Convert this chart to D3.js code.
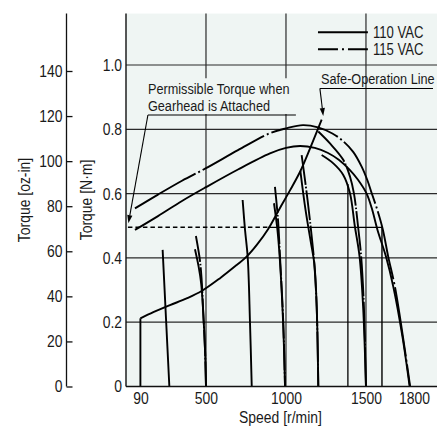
<!DOCTYPE html>
<html><head><meta charset="utf-8">
<script src="https://cdn.jsdelivr.net/npm/d3@7"></script>
<style>
html,body{margin:0;padding:0;background:#fff;}
svg{display:block;}
text{font-family:"Liberation Sans",Arial,Helvetica,sans-serif;fill:#1a1a1a;}
</style></head><body>
<svg id="chart" width="440" height="429"></svg>
<script>
// ---- data (speed r/min, torque N·m) ----
const speedTicks = [90, 500, 1000, 1500, 1800];
const speedGrid = [500, 1000, 1500];
const torqueTicks = [0, 0.2, 0.4, 0.6, 0.8, 1.0];
const ozTicks = [0, 20, 40, 60, 80, 100, 120, 140];
const legendLabels = ["110 VAC", "115 VAC"];

const hump110 = [[56,0.487],[200,0.53],[350,0.577],[500,0.62],[700,0.675],[900,0.725],[1000,0.742],[1088,0.748],[1180,0.742],[1260,0.727],[1330,0.705],[1400,0.673],[1450,0.643],[1504,0.6],[1536,0.555],[1572,0.487],[1625,0.404],[1671,0.31],[1728,0.155],[1773,0]];
const hump115 = [[56,0.554],[200,0.597],[350,0.64],[500,0.679],[700,0.735],[900,0.788],[1000,0.803],[1106,0.813],[1200,0.806],[1290,0.787],[1348,0.767],[1420,0.73],[1473,0.684],[1510,0.64],[1536,0.601],[1573,0.546],[1606,0.487],[1639,0.404],[1681,0.31],[1731,0.155],[1776,0]];
const safeLine = [[90,0.212],[171,0.231],[275,0.253],[379,0.274],[473,0.297],[588,0.337],[692,0.378],[754,0.404],[820,0.442],[889,0.49],[960,0.553],[1025,0.61],[1088,0.668],[1150,0.74],[1223,0.83]];

const set90 = [[90,0.212],[90,0]];
const set250 = [[229,0.425],[250,0.212],[271,0]];
const set500_110 = [[431,0.427],[454,0.373],[470,0.32],[483,0.228],[494,0.114],[500,0]];
const set500_115 = [[437,0.468],[462,0.393],[473,0.331],[483,0.228],[494,0.114],[500,0]];
const set800 = [[729,0.58],[744,0.487],[761,0.4],[775,0.2],[786,0]];
const set1000_110 = [[925,0.57],[946,0.49],[961,0.4],[982,0.2],[994,0]];
const set1000_115 = [[931,0.621],[950,0.52],[963,0.4],[983,0.2],[994,0]];
const set1200_110 = [[1090,0.67],[1122,0.55],[1155,0.45],[1177,0.383],[1192,0.248],[1202,0]];
const set1200_115 = [[1098,0.72],[1135,0.58],[1160,0.47],[1177,0.383],[1192,0.248],[1202,0]];
const set1500_110 = [[1223,0.72],[1296,0.694],[1358,0.658],[1400,0.601],[1430,0.5],[1460,0.404],[1482,0.25],[1500,0]];
const set1500_115 = [[1202,0.793],[1275,0.756],[1358,0.705],[1400,0.653],[1425,0.6],[1450,0.5],[1470,0.404],[1487,0.25],[1500,0]];

const permissibleDashed = [[12,0.495],[889,0.495]];
const permissibleSolid = [[889,0.495],[1600,0.495],[1600,0]];
const line1400 = [[1387,0.63],[1387,0]];

// ---- layout ----
const svg = d3.select("#chart");
const plotLeft = 126, plotRight = 437, plotBottom = 386.5, pxPerNm = 321.5;
const x = d3.scaleLinear().domain([0, 1944]).range([plotLeft, plotRight]);
const y = d3.scaleLinear().domain([0, 1.16]).range([plotBottom, plotBottom - 1.16 * pxPerNm]);
const yOz = d3.scaleLinear().domain([0, 140]).range([plotBottom, 71]);
const plotTop = y.range()[1];
const bg = "#eff5f3";
const gridColor = "#2a2a2a";
const narrow = 0.82;

svg.append("rect").attr("x", plotLeft).attr("y", plotTop).attr("width", plotRight - plotLeft).attr("height", plotBottom - plotTop).attr("fill", bg);

// grid
svg.append("g").selectAll("line").data(torqueTicks.filter(d => d > 0)).join("line")
  .attr("x1", plotLeft).attr("x2", plotRight).attr("y1", d => y(d)).attr("y2", d => y(d))
  .attr("stroke", gridColor).attr("stroke-width", 1.2);
svg.append("g").selectAll("line").data(speedGrid).join("line")
  .attr("x1", d => x(d)).attr("x2", d => x(d)).attr("y1", plotTop).attr("y2", plotBottom)
  .attr("stroke", gridColor).attr("stroke-width", 1.2);

// knockout behind permissible label
const permLabel = {x: 137, y1: 0.909, y2: 0.857, under: 0.8445, underEnd: 1062, tip: [15, 0.508]};
svg.append("rect")
  .attr("x", x(permLabel.x) - 2).attr("y", y(permLabel.y1) - 16)
  .attr("width", x(permLabel.underEnd) - x(permLabel.x) + 3)
  .attr("height", y(permLabel.under) - y(permLabel.y1) + 15)
  .attr("fill", bg);

const line = d3.line().x(d => x(d[0])).y(d => y(d[1])).curve(d3.curveCatmullRom.alpha(0.5));
const straight = d3.line().x(d => x(d[0])).y(d => y(d[1]));

const curves = [
  {d: set90, dash: null, s: straight},
  {d: set250, dash: null, s: line},
  {d: set500_110, dash: null, s: line},
  {d: set500_115, dash: "26,2,1.5,2", s: line},
  {d: set800, dash: null, s: line},
  {d: set1000_110, dash: null, s: line},
  {d: set1000_115, dash: "26,2,1.5,2", s: line},
  {d: set1200_110, dash: null, s: line},
  {d: set1200_115, dash: "30,2,1.5,2", s: line},
  {d: set1500_110, dash: null, s: line},
  {d: set1500_115, dash: "40,2,1.5,2", s: line},
  {d: line1400, dash: null, s: straight, w: 1.3},
  {d: permissibleSolid, dash: null, s: straight, w: 1.4},
  {d: permissibleDashed, dash: "4.5,3", s: straight, w: 1.5},
  {d: safeLine, dash: null, s: line},
  {d: hump110, dash: null, s: line},
  {d: hump115, dash: "70,3,2,3", s: line}
];
svg.append("g").selectAll("path").data(curves).join("path")
  .attr("d", c => c.s(c.d)).attr("fill", "none").attr("stroke", "#000")
  .attr("stroke-width", c => c.w || 1.9).attr("stroke-dasharray", c => c.dash)
  .attr("stroke-linejoin", "round");

// plot frame (left edge and bottom)
svg.append("line").attr("x1", plotLeft).attr("x2", plotLeft).attr("y1", plotTop).attr("y2", plotBottom).attr("stroke", "#111").attr("stroke-width", 1.4);
svg.append("line").attr("x1", plotLeft).attr("x2", plotRight).attr("y1", plotBottom).attr("y2", plotBottom).attr("stroke", "#111").attr("stroke-width", 1.4);

// axes
const fs = 17;
const gY = svg.append("g").attr("transform", `translate(${plotLeft},0)`)
  .call(d3.axisLeft(y).tickValues(torqueTicks).tickSize(0).tickPadding(4).tickFormat(d => d === 0 ? "0" : d.toFixed(1)));
gY.select(".domain").remove();
const gX = svg.append("g").attr("transform", `translate(0,${plotBottom})`)
  .call(d3.axisBottom(x).tickValues(speedTicks).tickSize(0).tickPadding(5.5).tickFormat(d3.format("d")));
gX.select(".domain").remove();
const ozX = 66.5;
const gOz = svg.append("g").attr("transform", `translate(${ozX},0)`)
  .call(d3.axisLeft(yOz).tickValues(ozTicks).tickSizeInner(-6).tickSizeOuter(0).tickPadding(4));
gOz.select(".domain").remove();
gOz.selectAll(".tick line").attr("stroke", "#111").attr("stroke-width", 1.3);
svg.append("line").attr("x1", ozX).attr("x2", ozX).attr("y1", plotTop).attr("y2", plotBottom).attr("stroke", "#111").attr("stroke-width", 1.3);
[gY, gX, gOz].forEach(g => g.attr("font-size", fs).attr("font-family", null).selectAll("text").attr("fill", "#1a1a1a"));

// axis titles
svg.append("text").attr("transform", `translate(30,200) rotate(-90)`).attr("text-anchor", "middle").attr("font-size", fs).text("Torque [oz-in]");
svg.append("text").attr("transform", `translate(91.5,200) rotate(-90)`).attr("text-anchor", "middle").attr("font-size", fs).text("Torque [N·m]");
svg.append("text").attr("x", 280.5).attr("y", 423).attr("text-anchor", "middle").attr("font-size", fs).text("Speed [r/min]");

// annotations
const afs = 15.5;
function arrow(from, to) {
  const p0 = [x(from[0]), y(from[1])], p1 = [x(to[0]), y(to[1])];
  const ang = Math.atan2(p1[1] - p0[1], p1[0] - p0[0]);
  const L = 8, Wd = 2.6;
  const bx = p1[0] - L * Math.cos(ang), by = p1[1] - L * Math.sin(ang);
  svg.append("line").attr("x1", p0[0]).attr("y1", p0[1]).attr("x2", bx).attr("y2", by).attr("stroke", "#000").attr("stroke-width", 1.1);
  const px = -Math.sin(ang) * Wd, py = Math.cos(ang) * Wd;
  svg.append("path").attr("d", `M${p1[0]},${p1[1]}L${bx + px},${by + py}L${bx - px},${by - py}Z`).attr("fill", "#000");
}
svg.append("text").attr("x", x(permLabel.x)).attr("y", y(permLabel.y1)).attr("font-size", afs).text("Permissible Torque when");
svg.append("text").attr("x", x(permLabel.x)).attr("y", y(permLabel.y2)).attr("font-size", afs).text("Gearhead is Attached");
svg.append("line").attr("x1", x(permLabel.x)).attr("x2", x(permLabel.underEnd)).attr("y1", y(permLabel.under)).attr("y2", y(permLabel.under)).attr("stroke", "#000").attr("stroke-width", 1.1);
arrow([permLabel.x, permLabel.under], permLabel.tip);

const safeLabel = {x: 1219, y: 0.941, under: 0.927, underStart: 1212, underEnd: 1919, tip: [1233, 0.841]};
svg.append("text").attr("x", x(safeLabel.x)).attr("y", y(safeLabel.y)).attr("font-size", afs).text("Safe-Operation Line");
svg.append("line").attr("x1", x(safeLabel.underStart)).attr("x2", x(safeLabel.underEnd)).attr("y1", y(safeLabel.under)).attr("y2", y(safeLabel.under)).attr("stroke", "#000").attr("stroke-width", 1.1);
arrow([safeLabel.underStart, safeLabel.under], safeLabel.tip);

// legend
const legend = {x1: 1200, x2: 1512, tx: 1544, rows: [1.1017, 1.0488], base: [1.0849, 1.031], dash: [null, "20,4,2,4"]};
legendLabels.forEach((lab, i) => {
  svg.append("line").attr("x1", x(legend.x1)).attr("x2", x(legend.x2)).attr("y1", y(legend.rows[i])).attr("y2", y(legend.rows[i]))
    .attr("stroke", "#000").attr("stroke-width", 1.9).attr("stroke-dasharray", legend.dash[i]);
  svg.append("text").attr("x", x(legend.tx)).attr("y", y(legend.base[i])).attr("font-size", 16).text(lab);
});

// condensed lettering (narrow sans, like the original): horizontal squeeze via transform
svg.selectAll("text").each(function () {
  const el = d3.select(this);
  const tx = +el.attr("x") || 0, ty = +el.attr("y") || 0;
  const t = el.attr("transform") || "";
  el.attr("x", null).attr("y", null)
    .attr("transform", `${t} translate(${tx},${ty}) scale(${narrow},1)`.trim());
});
</script>
</body></html>
